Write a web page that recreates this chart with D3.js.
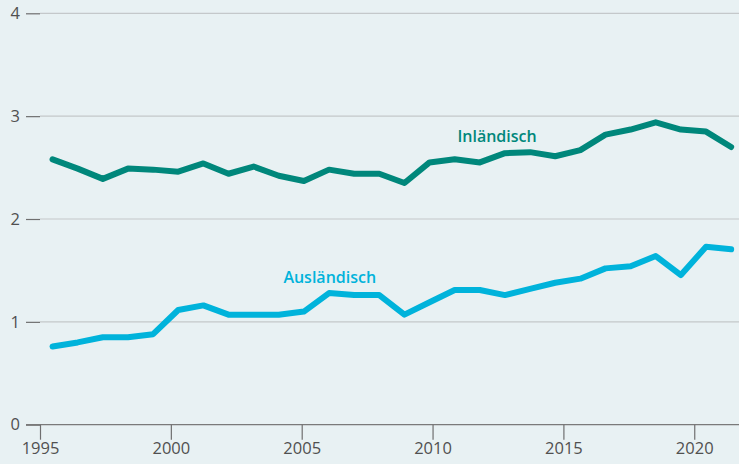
<!DOCTYPE html>
<html>
<head>
<meta charset="utf-8">
<script src="https://cdn.jsdelivr.net/npm/d3@7"></script>
<style>
    html, body { margin: 0; padding: 0; background: #e8f1f3; }
    svg { display: block; font-family: "Open Sans", sans-serif; }
</style>
</head>
<body>
<div id="chart"></div>
<script>
// data
const years = d3.range(1995, 2023);
const inlaendisch = [2.58, 2.49, 2.39, 2.49, 2.48, 2.46, 2.54, 2.44, 2.51, 2.42,
    2.37, 2.48, 2.44, 2.44, 2.35, 2.55, 2.58, 2.55, 2.64, 2.65,
    2.61, 2.67, 2.82, 2.87, 2.94, 2.87, 2.85, 2.70];
const auslaendisch = [0.76, 0.80, 0.85, 0.85, 0.88, 1.115, 1.16, 1.07, 1.07, 1.07,
    1.10, 1.28, 1.26, 1.26, 1.07, 1.19, 1.31, 1.31, 1.26, 1.32,
    1.38, 1.42, 1.52, 1.54, 1.64, 1.455, 1.73, 1.705];
const yTicks = [0, 1, 2, 3, 4];
const xTicks = [1995, 2000, 2005, 2010, 2015, 2020];

const width = 739, height = 464;
const margin = { top: 13.3, right: 0, bottom: 39.3, left: 40 };

const svg = d3.select("#chart")
    .append("svg")
    .attr("width", width)
    .attr("height", height);

svg.append("rect")
    .attr("width", width)
    .attr("height", height)
    .attr("fill", "#e8f1f3");

// x axis (years)
const x = d3.scaleLinear()
    .domain([1995, 2021.71])
    .range([margin.left, width]);

// data points sit on their own point scale
const xPts = d3.scalePoint()
    .domain(years)
    .range([x(1995.48), x(2021.41)]);

const y = d3.scaleLinear()
    .domain([0, 4])
    .range([height - margin.bottom, margin.top]);

// grid lines
svg.append("g")
    .selectAll("line")
    .data(yTicks.filter(d => d > 0))
    .join("line")
    .attr("x1", margin.left)
    .attr("x2", width)
    .attr("y1", d => y(d))
    .attr("y2", d => y(d))
    .attr("stroke", "#c4c8ca")
    .attr("stroke-width", 1.2);

// y axis
const yAxis = svg.append("g")
    .attr("transform", `translate(${margin.left},0)`)
    .call(d3.axisLeft(y).tickValues(yTicks).tickSize(14).tickPadding(6).tickFormat(d3.format("d")));
yAxis.select(".domain").remove();
yAxis.selectAll(".tick line").attr("stroke", "#6f6f6f").attr("stroke-width", 1.2);
yAxis.selectAll(".tick text")
    .attr("fill", "#505050")
    .style("font-size", "16.5px")
    .style("font-family", "'Open Sans', sans-serif");

// base line at 0
svg.append("line")
    .attr("x1", 26)
    .attr("x2", width)
    .attr("y1", y(0))
    .attr("y2", y(0))
    .attr("stroke", "#7a7a7a")
    .attr("stroke-width", 1.3);

// x axis
const xAxis = svg.append("g")
    .attr("transform", `translate(0,${y(0)})`)
    .call(d3.axisBottom(x).tickValues(xTicks).tickSize(15).tickPadding(3).tickFormat(d3.format("d")));
xAxis.select(".domain").remove();
xAxis.selectAll(".tick line").attr("stroke", "#6f6f6f").attr("stroke-width", 1.2);
xAxis.selectAll(".tick text")
    .attr("fill", "#505050")
    .style("font-size", "16.5px")
    .style("font-family", "'Open Sans', sans-serif");

// lines
const line = d3.line()
    .x((d, i) => xPts(years[i]))
    .y(d => y(d));

const series = [
    { name: "Inländisch", values: inlaendisch, color: "#00877b", labelYear: 2010.95, labelValue: 2.75 },
    { name: "Ausländisch", values: auslaendisch, color: "#00b3db", labelYear: 2004.3, labelValue: 1.38 }
];

series.forEach(s => {
    svg.append("path")
        .datum(s.values)
        .attr("d", line)
        .attr("fill", "none")
        .attr("stroke", s.color)
        .attr("stroke-width", 6)
        .attr("stroke-linecap", "round")
        .attr("stroke-linejoin", "round");

    svg.append("text")
        .attr("x", x(s.labelYear))
        .attr("y", y(s.labelValue))
        .attr("fill", s.color)
        .style("font-size", "16px")
        .style("font-weight", 600)
        .text(s.name);
});
</script>
</body>
</html>
